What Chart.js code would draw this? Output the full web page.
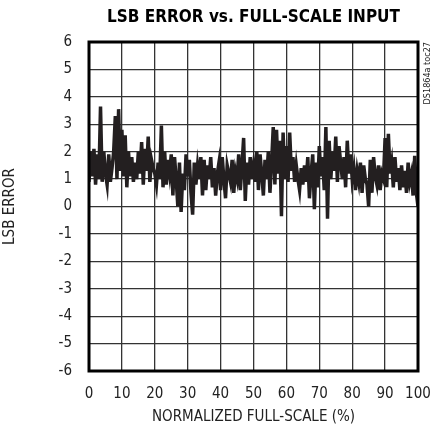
<!DOCTYPE html>
<html>
<head>
<meta charset="utf-8">
<script src="https://cdn.jsdelivr.net/npm/chart.js@4/dist/chart.umd.min.js"></script>
<style>
  html, body { margin: 0; padding: 0; background: #fff; }
  #wrap { width: 438px; height: 431px; position: relative; }
</style>
</head>
<body>
<div id="wrap"><canvas id="lsbChart"></canvas></div>
<script>
// LSB error sampled every 0.5% of full scale (0 .. 100)
const xStep = 0.5;
const lsbError = [
  0.9, 2.0, 1.1, 2.1, 0.8, 1.9, 1.0, 3.65, 0.9, 2.0,
  1.2, 0.8, 1.9, 0.9, 1.4, 2.0, 3.3, 1.0, 3.55, 1.3,
  2.8, 1.1, 2.6, 0.7, 2.0, 1.1, 1.8, 0.9, 1.6, 1.0,
  2.0, 1.2, 2.35, 0.8, 2.1, 1.3, 2.55, 0.9, 1.7, 1.4,
  1.2, 0.8, 1.6, 1.0, 2.95, 0.7, 2.0, 0.8, 1.7, 1.2,
  1.9, 0.4, 1.8, 1.0, 0.0, 1.6, -0.2, 1.2, 0.6, 1.9,
  1.1, 1.7, 0.5, -0.3, 1.6, 0.8, 1.5, 1.0, 1.8, 0.4,
  1.7, 0.6, 1.5, 1.0, 1.8, 0.7, 1.4, 0.4, 1.2, 1.6,
  0.6, 1.8, 1.0, 0.3, 1.5, 1.2, 0.9, 1.7, 0.5, 1.3,
  1.0, 1.9, 0.6, 1.5, 2.5, 0.2, 1.6, 0.8, 1.8, 1.0,
  1.5, 0.9, 2.0, 0.6, 1.9, 1.2, 0.4, 1.7, 1.0, 2.0,
  0.5, 1.6, 2.9, 0.8, 2.8, 1.2, 2.4, -0.35, 2.7, 1.0,
  2.2, 0.9, 2.7, 1.3, 1.8, 0.9, 1.5, 1.0, 0.6, 1.4,
  0.8, 1.5, 0.9, 1.8, 0.3, 1.2, 1.9, -0.1, 1.6, 0.7,
  2.2, 1.1, 1.8, 0.6, 2.9, -0.45, 2.4, 1.0, 2.0, 1.3,
  2.55, 0.9, 2.2, 1.6, 1.0, 1.8, 0.7, 2.4, 1.2, 1.9,
  1.0, 1.4, 0.6, 1.3, 0.9, 1.6, 0.5, 1.5, 1.0, 0.8,
  0.0, 1.7, 0.5, 1.8, 1.1, 0.8, 1.5, 0.6, 1.2, 1.0,
  2.5, 0.7, 2.65, 1.2, 1.6, 0.7, 1.8, 0.9, 1.4, 0.6,
  1.5, 0.7, 1.3, 0.5, 1.6, 0.9, 1.2, 0.4, 1.85, 0.5,
  0.0
];

const chartTitle = 'LSB ERROR vs. FULL-SCALE INPUT';
const xTitle = 'NORMALIZED FULL-SCALE (%)';
const yTitle = 'LSB ERROR';
const figureTag = 'DS1864a toc27';

const narrow = '"DejaVu Sans Condensed", "Liberation Sans Narrow", "Liberation Sans", sans-serif';

// heavy frame round the plot plus the little rotated figure id
const framePlugin = {
  id: 'frame',
  afterDraw(chart) {
    const { ctx, chartArea: a } = chart;
    ctx.save();
    ctx.strokeStyle = '#000';
    ctx.lineWidth = 3;
    ctx.strokeRect(a.left, a.top, a.right - a.left, a.bottom - a.top);
    ctx.translate(a.right + 10, a.top);
    ctx.rotate(-Math.PI / 2);
    ctx.fillStyle = '#222';
    ctx.font = '9px ' + narrow;
    ctx.textAlign = 'right';
    ctx.textBaseline = 'middle';
    ctx.fillText(figureTag, 0, 0);
    ctx.restore();
  }
};

const ctx = document.getElementById('lsbChart').getContext('2d');
new Chart(ctx, {
  type: 'line',
  data: {
    datasets: [{
      data: lsbError.map((v, i) => ({ x: i * xStep, y: v })),
      borderColor: '#231f20',
      borderWidth: 3.5,
      pointRadius: 0,
      tension: 0,
      fill: false
    }]
  },
  options: {
    responsive: true,
    maintainAspectRatio: false,
    animation: false,
    layout: { padding: { left: 0, right: 20, top: 0, bottom: 0 } },
    plugins: {
      legend: { display: false },
      tooltip: { enabled: false },
      title: {
        display: true,
        fullSize: false,
        text: chartTitle,
        color: '#000',
        font: { family: narrow, size: 17, weight: 'bold' },
        padding: { top: 7, bottom: 14.6 }
      }
    },
    scales: {
      x: {
        type: 'linear',
        min: 0,
        max: 100,
        afterFit(scale) {
          scale.height = 60;
          scale.paddingLeft = 0;
          scale.paddingRight = 0;
        },
        ticks: {
          stepSize: 10,
          padding: 14,
          maxRotation: 0,
          color: '#222',
          font: { family: narrow, size: 15 }
        },
        grid: { color: '#333', lineWidth: 1.3, drawTicks: false },
        border: { display: false },
        title: {
          display: true,
          text: xTitle,
          color: '#222',
          font: { family: narrow, size: 15 },
          padding: { top: 0, bottom: 5 }
        }
      },
      y: {
        min: -6,
        max: 6,
        afterFit(scale) { scale.width = 89; },
        ticks: {
          stepSize: 1,
          padding: 17,
          color: '#222',
          font: { family: narrow, size: 15 }
        },
        grid: { color: '#333', lineWidth: 1.3, drawTicks: false },
        border: { display: false },
        title: {
          display: true,
          text: yTitle,
          color: '#222',
          font: { family: narrow, size: 15 },
          padding: { top: 1, bottom: 0 }
        }
      }
    }
  },
  plugins: [framePlugin]
});
</script>
</body>
</html>
